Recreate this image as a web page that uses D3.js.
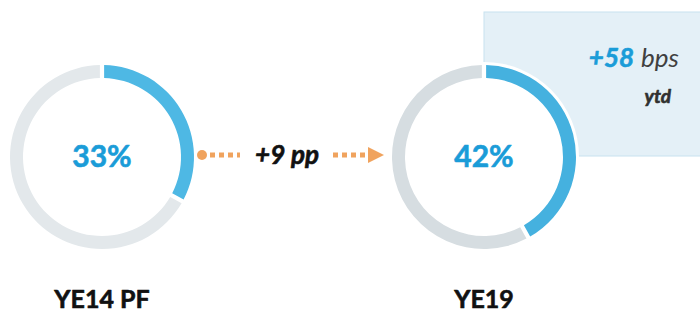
<!DOCTYPE html>
<html>
<head>
<meta charset="utf-8">
<script src="https://cdn.jsdelivr.net/npm/d3@7"></script>
<style>
  html, body { margin: 0; padding: 0; background: #fff; }
  svg { display: block; font-family: Lato, 'Noto Sans', sans-serif; }
  .heavy { stroke-width: 0.6px; stroke-linejoin: round; }
</style>
</head>
<body>
<svg id="chart" width="700" height="312"></svg>
<script>
const categories = ['YE14 PF', 'YE19']
const shares = [33, 42]
const changeLabel = '+9 pp'
const ytdValue = '+58'
const ytdUnit = 'bps'
const ytdNote = 'ytd'

const RING = { outer: 92, inner: 79 }
const trackColors = ['#e3e8eb', '#d6dde1']
const fillColors = ['#4eb8e4', '#45b1df']

const svg = d3.select('#chart')

const x = d3.scalePoint().domain(categories).range([102, 484])
const cy = 157

// ytd callout box sits behind the second ring
svg.append('rect')
  .attr('x', x(categories[1]))
  .attr('y', 12)
  .attr('width', 240)
  .attr('height', 144)
  .attr('fill', '#e4f0f7')
  .attr('stroke', '#c8e2ef')
  .attr('stroke-width', 1)

const box = svg.append('text')
  .attr('x', 679)
  .attr('y', 67)
  .attr('text-anchor', 'end')
  .style('font-style', 'italic')
  .style('font-size', '26px')
box.append('tspan').attr('class', 'heavy').attr('fill', '#1a9cd8').attr('stroke', '#1a9cd8')
  .style('font-weight', 700).text(ytdValue)
box.append('tspan').attr('fill', '#404040').attr('dx', 7).text(ytdUnit)

svg.append('text')
  .attr('class', 'heavy')
  .attr('x', 671)
  .attr('y', 103)
  .attr('text-anchor', 'end')
  .attr('fill', '#303030')
  .attr('stroke', '#303030')
  .style('font-style', 'italic')
  .style('font-weight', 700)
  .style('font-size', '19px')
  .text(ytdNote)

const pie = d3.pie().sort(null).value((d) => d)
const arc = d3.arc().innerRadius(RING.inner).outerRadius(RING.outer).padAngle(0.035)

shares.forEach((v, i) => {
  const g = svg.append('g').attr('transform', 'translate(' + x(categories[i]) + ',' + cy + ')')

  g.append('circle').attr('r', RING.outer + 3).attr('fill', '#fff')

  g.selectAll('path')
    .data(pie([v, 100 - v]))
    .enter()
    .append('path')
    .attr('d', arc)
    .attr('fill', (d, j) => (j === 0 ? fillColors[i] : trackColors[i]))

  g.append('text')
    .attr('class', 'heavy')
    .attr('y', 10)
    .attr('text-anchor', 'middle')
    .attr('fill', '#1a9cd8')
    .attr('stroke', '#1a9cd8')
    .style('font-weight', 700)
    .style('font-size', '30px')
    .text(v + '%')

  svg.append('text')
    .attr('class', 'heavy')
    .attr('x', x(categories[i]))
    .attr('y', 308)
    .attr('text-anchor', 'middle')
    .attr('fill', '#111')
    .attr('stroke', '#111')
    .style('font-weight', 700)
    .style('font-size', '25px')
    .text(categories[i])
})

// dotted orange connector
const ay = 155
const orange = '#f0a35e'
svg.append('circle').attr('cx', 202).attr('cy', ay).attr('r', 5).attr('fill', orange)
svg.append('line')
  .attr('x1', 210).attr('x2', 240).attr('y1', ay).attr('y2', ay)
  .attr('stroke', orange).attr('stroke-width', 5).attr('stroke-dasharray', '5,4')
svg.append('line')
  .attr('x1', 333).attr('x2', 368).attr('y1', ay).attr('y2', ay)
  .attr('stroke', orange).attr('stroke-width', 5).attr('stroke-dasharray', '5,4')
svg.append('path')
  .attr('d', 'M368,' + (ay - 8) + 'L384,' + ay + 'L368,' + (ay + 8) + 'Z')
  .attr('fill', orange)

svg.append('text')
  .attr('class', 'heavy')
  .attr('x', 287)
  .attr('y', ay + 9)
  .attr('text-anchor', 'middle')
  .attr('fill', '#111')
  .attr('stroke', '#111')
  .style('font-style', 'italic')
  .style('font-weight', 700)
  .style('font-size', '26px')
  .text(changeLabel)
</script>
</body>
</html>
